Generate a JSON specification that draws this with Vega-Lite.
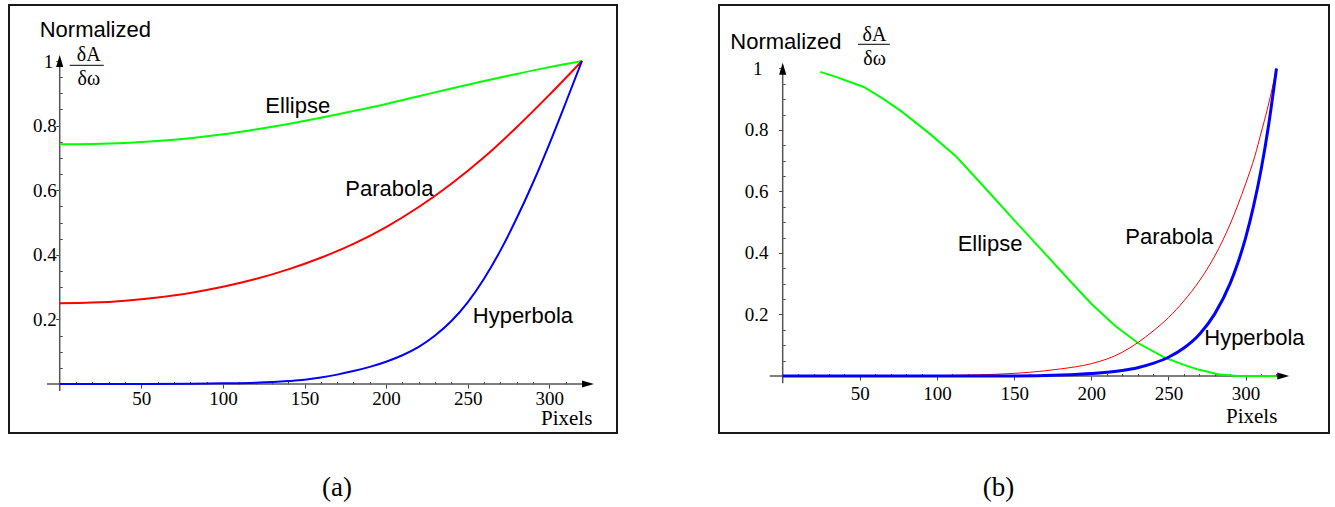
{
  "$schema": "https://vega.github.io/schema/vega-lite/v6.json",
  "background": "white",
  "padding": {"left": 8, "top": 4, "right": 5, "bottom": 5},
  "spacing": 102,
  "bounds": "flush",
  "datasets": {
    "curvesA": [
      {"curve": "Ellipse", "x": 0, "y": 0.742}, {"curve": "Ellipse", "x": 20, "y": 0.743}, {"curve": "Ellipse", "x": 40, "y": 0.746},
      {"curve": "Ellipse", "x": 60, "y": 0.752}, {"curve": "Ellipse", "x": 80, "y": 0.761}, {"curve": "Ellipse", "x": 100, "y": 0.773},
      {"curve": "Ellipse", "x": 120, "y": 0.788}, {"curve": "Ellipse", "x": 140, "y": 0.805}, {"curve": "Ellipse", "x": 160, "y": 0.824},
      {"curve": "Ellipse", "x": 180, "y": 0.845}, {"curve": "Ellipse", "x": 200, "y": 0.867}, {"curve": "Ellipse", "x": 220, "y": 0.891},
      {"curve": "Ellipse", "x": 240, "y": 0.915}, {"curve": "Ellipse", "x": 260, "y": 0.938}, {"curve": "Ellipse", "x": 280, "y": 0.960},
      {"curve": "Ellipse", "x": 300, "y": 0.981}, {"curve": "Ellipse", "x": 320, "y": 1.0},
      {"curve": "Parabola", "x": 0, "y": 0.25}, {"curve": "Parabola", "x": 20, "y": 0.252}, {"curve": "Parabola", "x": 40, "y": 0.258},
      {"curve": "Parabola", "x": 60, "y": 0.268}, {"curve": "Parabola", "x": 80, "y": 0.282}, {"curve": "Parabola", "x": 100, "y": 0.301},
      {"curve": "Parabola", "x": 120, "y": 0.325}, {"curve": "Parabola", "x": 140, "y": 0.355}, {"curve": "Parabola", "x": 160, "y": 0.391},
      {"curve": "Parabola", "x": 180, "y": 0.434}, {"curve": "Parabola", "x": 200, "y": 0.486}, {"curve": "Parabola", "x": 220, "y": 0.548},
      {"curve": "Parabola", "x": 240, "y": 0.620}, {"curve": "Parabola", "x": 260, "y": 0.702}, {"curve": "Parabola", "x": 280, "y": 0.795},
      {"curve": "Parabola", "x": 300, "y": 0.895}, {"curve": "Parabola", "x": 320, "y": 1.0},
      {"curve": "Hyperbola", "x": 0, "y": 0}, {"curve": "Hyperbola", "x": 50, "y": 0.0003}, {"curve": "Hyperbola", "x": 80, "y": 0.001},
      {"curve": "Hyperbola", "x": 100, "y": 0.002}, {"curve": "Hyperbola", "x": 120, "y": 0.004}, {"curve": "Hyperbola", "x": 140, "y": 0.009},
      {"curve": "Hyperbola", "x": 150, "y": 0.013}, {"curve": "Hyperbola", "x": 160, "y": 0.020}, {"curve": "Hyperbola", "x": 170, "y": 0.029},
      {"curve": "Hyperbola", "x": 180, "y": 0.040}, {"curve": "Hyperbola", "x": 190, "y": 0.053}, {"curve": "Hyperbola", "x": 200, "y": 0.069},
      {"curve": "Hyperbola", "x": 210, "y": 0.089}, {"curve": "Hyperbola", "x": 220, "y": 0.115}, {"curve": "Hyperbola", "x": 230, "y": 0.150},
      {"curve": "Hyperbola", "x": 240, "y": 0.195}, {"curve": "Hyperbola", "x": 250, "y": 0.253}, {"curve": "Hyperbola", "x": 260, "y": 0.326},
      {"curve": "Hyperbola", "x": 270, "y": 0.413}, {"curve": "Hyperbola", "x": 280, "y": 0.513}, {"curve": "Hyperbola", "x": 290, "y": 0.623},
      {"curve": "Hyperbola", "x": 300, "y": 0.743}, {"curve": "Hyperbola", "x": 310, "y": 0.870}, {"curve": "Hyperbola", "x": 320, "y": 1.0}
    ],
    "curvesB": [
      {"curve": "Ellipse", "x": 24.4, "y": 0.989}, {"curve": "Ellipse", "x": 35, "y": 0.972}, {"curve": "Ellipse", "x": 52.5, "y": 0.940},
      {"curve": "Ellipse", "x": 65, "y": 0.902}, {"curve": "Ellipse", "x": 77.4, "y": 0.859}, {"curve": "Ellipse", "x": 95, "y": 0.789},
      {"curve": "Ellipse", "x": 112.6, "y": 0.713}, {"curve": "Ellipse", "x": 130, "y": 0.618}, {"curve": "Ellipse", "x": 150, "y": 0.507},
      {"curve": "Ellipse", "x": 170, "y": 0.398}, {"curve": "Ellipse", "x": 187, "y": 0.305}, {"curve": "Ellipse", "x": 200, "y": 0.235},
      {"curve": "Ellipse", "x": 215, "y": 0.165}, {"curve": "Ellipse", "x": 230, "y": 0.108}, {"curve": "Ellipse", "x": 247.5, "y": 0.060},
      {"curve": "Ellipse", "x": 260, "y": 0.036}, {"curve": "Ellipse", "x": 270, "y": 0.020}, {"curve": "Ellipse", "x": 282, "y": 0.006},
      {"curve": "Ellipse", "x": 295, "y": 0.0}, {"curve": "Ellipse", "x": 320, "y": 0.0},
      {"curve": "Parabola", "x": 0, "y": 0}, {"curve": "Parabola", "x": 80, "y": 0}, {"curve": "Parabola", "x": 100, "y": 0.001},
      {"curve": "Parabola", "x": 120, "y": 0.003}, {"curve": "Parabola", "x": 140, "y": 0.006}, {"curve": "Parabola", "x": 160, "y": 0.012},
      {"curve": "Parabola", "x": 180, "y": 0.023}, {"curve": "Parabola", "x": 200, "y": 0.040}, {"curve": "Parabola", "x": 210, "y": 0.055},
      {"curve": "Parabola", "x": 220, "y": 0.077}, {"curve": "Parabola", "x": 230, "y": 0.108}, {"curve": "Parabola", "x": 240, "y": 0.146},
      {"curve": "Parabola", "x": 250, "y": 0.190}, {"curve": "Parabola", "x": 260, "y": 0.244}, {"curve": "Parabola", "x": 270, "y": 0.309},
      {"curve": "Parabola", "x": 280, "y": 0.390}, {"curve": "Parabola", "x": 290, "y": 0.494}, {"curve": "Parabola", "x": 300, "y": 0.625},
      {"curve": "Parabola", "x": 306, "y": 0.715}, {"curve": "Parabola", "x": 310, "y": 0.790}, {"curve": "Parabola", "x": 314, "y": 0.866},
      {"curve": "Parabola", "x": 317, "y": 0.930}, {"curve": "Parabola", "x": 320, "y": 1.0},
      {"curve": "Hyperbola", "x": 0, "y": 0}, {"curve": "Hyperbola", "x": 150, "y": 0}, {"curve": "Hyperbola", "x": 180, "y": 0.003},
      {"curve": "Hyperbola", "x": 200, "y": 0.008}, {"curve": "Hyperbola", "x": 220, "y": 0.018}, {"curve": "Hyperbola", "x": 230, "y": 0.027},
      {"curve": "Hyperbola", "x": 240, "y": 0.041}, {"curve": "Hyperbola", "x": 250, "y": 0.061}, {"curve": "Hyperbola", "x": 260, "y": 0.091},
      {"curve": "Hyperbola", "x": 270, "y": 0.135}, {"curve": "Hyperbola", "x": 280, "y": 0.202}, {"curve": "Hyperbola", "x": 290, "y": 0.301},
      {"curve": "Hyperbola", "x": 295, "y": 0.368}, {"curve": "Hyperbola", "x": 300, "y": 0.449}, {"curve": "Hyperbola", "x": 305, "y": 0.549},
      {"curve": "Hyperbola", "x": 310, "y": 0.670}, {"curve": "Hyperbola", "x": 315, "y": 0.819}, {"curve": "Hyperbola", "x": 320, "y": 1.0}
    ],
    "axesA": [
      {"line": "x axis", "x": -7.8, "x2": 321, "y": 0, "y2": 0},
      {"line": "y axis", "x": 0, "x2": 0, "y": -0.0217, "y2": 0.985}
    ],
    "arrowsA": [
      {"dir": "right", "x": 323.7, "y": 0},
      {"dir": "up", "x": 0, "y": 1.0}
    ],
    "fracA": [
      {"x": 6.1, "x2": 27.0, "y": 0.9867, "y2": 0.9867}
    ],
    "textA": [
      {"role": "label", "text": "Normalized", "x": -12.25, "y": 1.0752},
      {"role": "label", "text": "Ellipse", "x": 126.0, "y": 0.840},
      {"role": "label", "text": "Parabola", "x": 175.0, "y": 0.582},
      {"role": "label", "text": "Hyperbola", "x": 253.1, "y": 0.1898},
      {"role": "fraction", "text": "δA", "x": 17.8, "y": 1.0},
      {"role": "fraction", "text": "δω", "x": 17.8, "y": 0.9248},
      {"role": "unit", "text": "Pixels", "x": 294.9, "y": -0.128}
    ],
    "axesB": [
      {"line": "x axis", "x": -8.4, "x2": 321, "y": 0, "y2": 0},
      {"line": "y axis", "x": 0, "x2": 0, "y": -0.0237, "y2": 0.985}
    ],
    "arrowsB": [
      {"dir": "right", "x": 324.4, "y": 0},
      {"dir": "up", "x": 0, "y": 0.999}
    ],
    "fracB": [
      {"x": 48.8, "x2": 69.5, "y": 1.0787, "y2": 1.0787}
    ],
    "textB": [
      {"role": "label", "text": "Normalized", "x": -33.96, "y": 1.0624},
      {"role": "label", "text": "Ellipse", "x": 113.4, "y": 0.4065},
      {"role": "label", "text": "Parabola", "x": 222.0, "y": 0.4302},
      {"role": "label", "text": "Hyperbola", "x": 273.2, "y": 0.1008},
      {"role": "fraction", "text": "δA", "x": 59.5, "y": 1.0894},
      {"role": "fraction", "text": "δω", "x": 59.5, "y": 1.0104},
      {"role": "unit", "text": "Pixels", "x": 287.3, "y": -0.1519}
    ]
  },
  "hconcat": [
    {
      "width": 608,
      "height": 428,
      "title": {"text": "(a)", "orient": "bottom", "anchor": "middle", "dx": 24, "offset": 63, "baseline": "alphabetic"},
      "encoding": {
        "x": {
          "field": "x", "type": "quantitative",
          "scale": {"domain": [-31.07, 341.48], "nice": false, "zero": false},
          "axis": {
            "title": null, "orient": "bottom", "offset": -49,
            "values": [10, 20, 30, 40, 50, 60, 70, 80, 90, 100, 110, 120, 130, 140, 150, 160, 170, 180, 190, 200, 210, 220, 230, 240, 250, 260, 270, 280, 290, 300, 310, 320],
            "labelExpr": "datum.value % 50 === 0 ? datum.label : ''",
            "tickSize": {"condition": {"test": "datum.value % 50 === 0", "value": 4}, "value": -2.5},
            "labelPadding": 1
          }
        },
        "y": {
          "field": "y", "type": "quantitative",
          "scale": {"domain": [-0.1517, 1.1734], "nice": false, "zero": false},
          "axis": {
            "title": null, "orient": "left", "offset": -50.7,
            "values": [0.05, 0.1, 0.15, 0.2, 0.25, 0.3, 0.35, 0.4, 0.45, 0.5, 0.55, 0.6, 0.65, 0.7, 0.75, 0.8, 0.85, 0.9, 0.95, 1],
            "labelExpr": "abs(datum.value*5 - round(datum.value*5)) < 0.001 ? (datum.value == 1 ? '1' : format(datum.value, '.1f')) : ''",
            "tickSize": {"condition": {"test": "abs(datum.value*5 - round(datum.value*5)) < 0.001", "value": 4}, "value": -2.5},
            "labelPadding": {"condition": {"test": "datum.value == 1", "value": 3}, "value": -0.5}
          }
        }
      },
      "layer": [
        {
          "data": {"name": "axesA"},
          "mark": {"type": "rule", "color": "#555555", "strokeWidth": 1.5},
          "encoding": {"x2": {"field": "x2"}, "y2": {"field": "y2"}}
        },
        {
          "data": {"name": "arrowsA"},
          "mark": {"type": "point", "filled": true, "color": "#000000", "opacity": 1, "size": 144},
          "encoding": {
            "shape": {"field": "dir", "type": "nominal", "legend": null,
              "scale": {"domain": ["right", "up"], "range": ["M-1,-0.6L1,0L-1,0.6Z", "M-0.6,1L0,-1L0.6,1Z"]}}
          }
        },
        {
          "data": {"name": "fracA"},
          "mark": {"type": "rule", "color": "#000000", "strokeWidth": 1},
          "encoding": {"x2": {"field": "x2"}, "y2": {"field": "y2"}}
        },
        {
          "data": {"name": "curvesA"},
          "mark": {"type": "line", "interpolate": "monotone", "strokeWidth": 2},
          "encoding": {
            "color": {"field": "curve", "type": "nominal", "legend": null,
              "scale": {"domain": ["Ellipse", "Parabola", "Hyperbola"], "range": ["#00ff00", "#ff0000", "#0000ff"]}}
          }
        },
        {
          "data": {"name": "textA"},
          "transform": [{"filter": "datum.role == 'label'"}],
          "mark": {"type": "text", "font": "Liberation Sans", "fontSize": 22, "align": "left", "baseline": "alphabetic", "color": "#000000"},
          "encoding": {"text": {"field": "text"}}
        },
        {
          "data": {"name": "textA"},
          "transform": [{"filter": "datum.role == 'fraction'"}],
          "mark": {"type": "text", "font": "Liberation Serif", "fontSize": 20, "align": "center", "baseline": "alphabetic", "color": "#000000"},
          "encoding": {"text": {"field": "text"}}
        },
        {
          "data": {"name": "textA"},
          "transform": [{"filter": "datum.role == 'unit'"}],
          "mark": {"type": "text", "font": "Liberation Serif", "fontSize": 21, "align": "left", "baseline": "alphabetic", "color": "#000000"},
          "encoding": {"text": {"field": "text"}}
        }
      ]
    },
    {
      "width": 610,
      "height": 428,
      "title": {"text": "(b)", "orient": "bottom", "anchor": "middle", "dx": -25.5, "offset": 63, "baseline": "alphabetic"},
      "encoding": {
        "x": {
          "field": "x", "type": "quantitative",
          "scale": {"domain": [-41.28, 354.05], "nice": false, "zero": false},
          "axis": {
            "title": null, "orient": "bottom", "offset": -57,
            "values": [10, 20, 30, 40, 50, 60, 70, 80, 90, 100, 110, 120, 130, 140, 150, 160, 170, 180, 190, 200, 210, 220, 230, 240, 250, 260, 270, 280, 290, 300, 310, 320],
            "labelExpr": "datum.value % 50 === 0 ? datum.label : ''",
            "tickSize": {"condition": {"test": "datum.value % 50 === 0", "value": 4}, "value": -2.5},
            "labelPadding": 4
          }
        },
        "y": {
          "field": "y", "type": "quantitative",
          "scale": {"domain": [-0.1854, 1.2065], "nice": false, "zero": false},
          "axis": {
            "title": null, "orient": "left", "offset": -63.7,
            "values": [0.05, 0.1, 0.15, 0.2, 0.25, 0.3, 0.35, 0.4, 0.45, 0.5, 0.55, 0.6, 0.65, 0.7, 0.75, 0.8, 0.85, 0.9, 0.95, 1],
            "labelExpr": "abs(datum.value*5 - round(datum.value*5)) < 0.001 ? (datum.value == 1 ? '1' : format(datum.value, '.1f')) : ''",
            "tickSize": {"condition": {"test": "abs(datum.value*5 - round(datum.value*5)) < 0.001", "value": 4}, "value": -2.5},
            "labelPadding": {"condition": {"test": "datum.value == 1", "value": 16.7}, "value": 10.7}
          }
        }
      },
      "layer": [
        {
          "data": {"name": "axesB"},
          "mark": {"type": "rule", "color": "#555555", "strokeWidth": 1.5},
          "encoding": {"x2": {"field": "x2"}, "y2": {"field": "y2"}}
        },
        {
          "data": {"name": "arrowsB"},
          "mark": {"type": "point", "filled": true, "color": "#000000", "opacity": 1, "size": 144},
          "encoding": {
            "shape": {"field": "dir", "type": "nominal", "legend": null,
              "scale": {"domain": ["right", "up"], "range": ["M-1,-0.6L1,0L-1,0.6Z", "M-0.6,1L0,-1L0.6,1Z"]}}
          }
        },
        {
          "data": {"name": "fracB"},
          "mark": {"type": "rule", "color": "#000000", "strokeWidth": 1},
          "encoding": {"x2": {"field": "x2"}, "y2": {"field": "y2"}}
        },
        {
          "data": {"name": "curvesB"},
          "transform": [{"filter": "datum.curve == 'Ellipse'"}],
          "mark": {"type": "line", "interpolate": "linear", "strokeWidth": 2},
          "encoding": {
            "color": {"field": "curve", "type": "nominal", "legend": null,
              "scale": {"domain": ["Ellipse", "Parabola", "Hyperbola"], "range": ["#00ff00", "#ff0000", "#0000ff"]}}
          }
        },
        {
          "data": {"name": "curvesB"},
          "transform": [{"filter": "datum.curve == 'Parabola'"}],
          "mark": {"type": "line", "interpolate": "monotone", "strokeWidth": 1},
          "encoding": {
            "color": {"field": "curve", "type": "nominal", "legend": null,
              "scale": {"domain": ["Ellipse", "Parabola", "Hyperbola"], "range": ["#00ff00", "#ff0000", "#0000ff"]}}
          }
        },
        {
          "data": {"name": "curvesB"},
          "transform": [{"filter": "datum.curve == 'Hyperbola'"}],
          "mark": {"type": "line", "interpolate": "monotone", "strokeWidth": 3},
          "encoding": {
            "color": {"field": "curve", "type": "nominal", "legend": null,
              "scale": {"domain": ["Ellipse", "Parabola", "Hyperbola"], "range": ["#00ff00", "#ff0000", "#0000ff"]}}
          }
        },
        {
          "data": {"name": "textB"},
          "transform": [{"filter": "datum.role == 'label'"}],
          "mark": {"type": "text", "font": "Liberation Sans", "fontSize": 22, "align": "left", "baseline": "alphabetic", "color": "#000000"},
          "encoding": {"text": {"field": "text"}}
        },
        {
          "data": {"name": "textB"},
          "transform": [{"filter": "datum.role == 'fraction'"}],
          "mark": {"type": "text", "font": "Liberation Serif", "fontSize": 20, "align": "center", "baseline": "alphabetic", "color": "#000000"},
          "encoding": {"text": {"field": "text"}}
        },
        {
          "data": {"name": "textB"},
          "transform": [{"filter": "datum.role == 'unit'"}],
          "mark": {"type": "text", "font": "Liberation Serif", "fontSize": 21, "align": "left", "baseline": "alphabetic", "color": "#000000"},
          "encoding": {"text": {"field": "text"}}
        }
      ]
    }
  ],
  "config": {
    "view": {"stroke": "#1a1a1a", "strokeWidth": 2},
    "axis": {
      "domain": false,
      "grid": false,
      "labelFont": "Liberation Serif",
      "labelFontSize": 19,
      "labelColor": "#000000",
      "labelOverlap": false,
      "labelFlush": false,
      "tickColor": "#444444",
      "tickWidth": 1
    },
    "title": {"font": "Liberation Serif", "fontSize": 27, "fontWeight": "normal", "color": "#000000"}
  }
}
